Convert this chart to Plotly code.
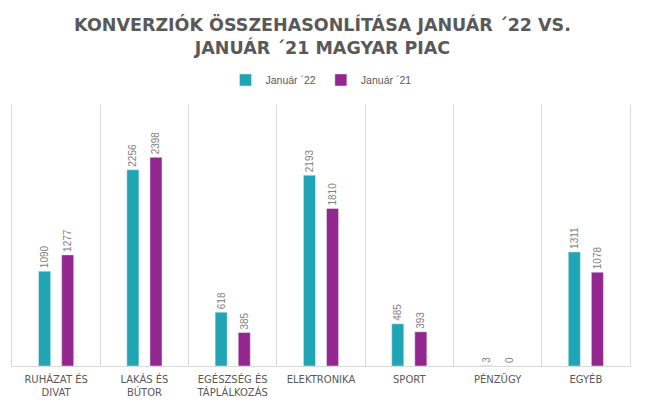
import plotly.graph_objects as go

categories = ["RUHÁZAT ÉS<br>DIVAT", "LAKÁS ÉS<br>BÚTOR", "EGÉSZSÉG ÉS<br>TÁPLÁLKOZÁS",
              "ELEKTRONIKA", "SPORT", "PÉNZÜGY", "EGYÉB"]
jan22 = [1090, 2256, 618, 2193, 485, 3, 1311]
jan21 = [1277, 2398, 385, 1810, 393, 0, 1078]

teal = "#1FA5B3"
purple = "#93278F"
grey = "#595959"
grid = "#D9D9D9"

fig = go.Figure()

# two series, labels rotated above the bars
fig.add_trace(go.Bar(x=categories, y=jan22, name="Január ´22", marker_color=teal,
                     text=jan22, textposition="outside", textangle=-90,
                     textfont=dict(color="#7F7F7F", size=10, family="Liberation Sans"),
                     cliponaxis=False))
fig.add_trace(go.Bar(x=categories, y=jan21, name="Január ´21", marker_color=purple,
                     text=jan21, textposition="outside", textangle=-90,
                     textfont=dict(color="#7F7F7F", size=10, family="Liberation Sans"),
                     cliponaxis=False))

# page body has an 8px margin, so the figure is 16px smaller than the window
fig.update_layout(
    width=629, height=389,
    paper_bgcolor="white", plot_bgcolor="white",
    font=dict(family="DejaVu Sans", color=grey),
    title=dict(text="<b>KONVERZIÓK ÖSSZEHASONLÍTÁSA JANUÁR ´22 VS.<br>JANUÁR ´21 MAGYAR PIAC</b>",
               x=0.5, xanchor="center", y=0.94, yanchor="top",
               font=dict(size=17.5, color=grey, family="DejaVu Sans")),
    legend=dict(orientation="h", x=0.5, xanchor="center", yref="container", y=0.815,
                yanchor="middle", font=dict(size=10.5, color=grey, family="Liberation Sans"),
                itemwidth=30, traceorder="normal"),
    margin=dict(l=4, r=7, t=97, b=31, autoexpand=False),
    barmode="group", bargap=0.477, bargroupgap=0.478,
    uniformtext=dict(minsize=8, mode="show"),
)
fig.update_xaxes(tickson="boundaries", showgrid=True, gridcolor=grid, gridwidth=1,
                 showline=True, linecolor=grid, linewidth=1, ticks="", automargin=False,
                 ticklabelstandoff=4,
                 tickfont=dict(size=10, color=grey, family="DejaVu Sans"))
fig.update_yaxes(range=[0, 3000], showgrid=False, showticklabels=False, zeroline=False,
                 showline=True, mirror=True, linecolor=grid, linewidth=1, automargin=False)

fig.write_html("out.html")
